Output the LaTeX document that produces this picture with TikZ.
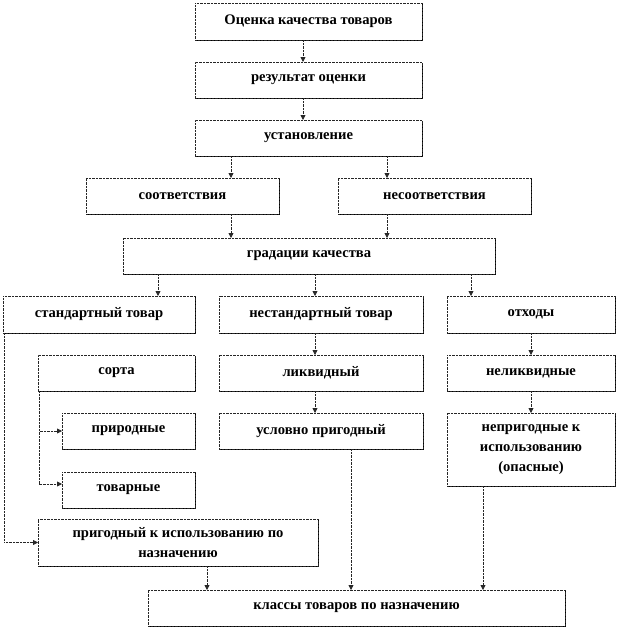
\documentclass[tikz,border=0pt]{standalone}
\usepackage{fontspec}
\setmainfont{Liberation Serif}
\usetikzlibrary{arrows.meta,shadows,calc}
\tikzset{
  boxst/.style={draw=black!85, line width=0.7pt, dash pattern=on 0.7pt off 0.7pt,
    fill=white, inner sep=0pt, outer sep=0pt, align=center,
    font=\fontsize{14.6}{20}\selectfont\bfseries,
    drop shadow={shadow xshift=1.3pt, shadow yshift=-1.3pt, fill=black, opacity=1}},
  conn/.style={draw=black!85, line width=0.8pt, dash pattern=on 0.7pt off 0.7pt,
    -{Triangle[width=5pt,length=5pt]}}
}
\newcommand\mkbox[6]{\node[boxst, minimum width={(#4-#2)*1pt}, minimum height={(#5-#3)*1pt}] (#1) at ({(#2+#4)/2},{(#3+#5)/2}) {#6};}
\begin{document}
\begin{tikzpicture}[x=1pt,y=-1pt]
\useasboundingbox (0,0) rectangle (618,629);
\mkbox{A}{195}{3}{422}{40}{Оценка качества товаров}
\mkbox{B}{195}{62}{422}{98}{результат  оценки}
\mkbox{C}{195}{120}{422}{156}{установление}
\mkbox{D}{86}{178}{279}{214}{соответствия}
\mkbox{E}{338}{178}{531}{214}{несоответствия}
\mkbox{F}{123}{238}{495}{274}{градации качества}
\mkbox{G}{3}{296}{195}{333}{стандартный товар}
\mkbox{H}{219}{296}{423}{333}{нестандартный товар}
\mkbox{I}{447}{296}{615}{333}{отходы}
\mkbox{J}{38}{355}{195}{391}{сорта}
\mkbox{K}{219}{355}{423}{391}{ликвидный}
\mkbox{L}{447}{355}{615}{391}{неликвидные}
\mkbox{M}{62}{413}{195}{449}{природные}
\mkbox{N}{219}{413}{423}{449}{условно пригодный}
\mkbox{O}{447}{413}{615}{486}{непригодные к\\использованию\\(опасные)}
\mkbox{P}{62}{472}{195}{508}{товарные}
\mkbox{Q}{38}{519}{318}{566}{пригодный к использованию по\\назначению}
\mkbox{R}{148}{590}{565}{626}{классы  товаров по назначению}
\draw[conn] (303,0 |- A.south) -- (303,0 |- B.north);
\draw[conn] (303,0 |- B.south) -- (303,0 |- C.north);
\draw[conn] (231,0 |- C.south) -- (231,0 |- D.north);
\draw[conn] (387,0 |- C.south) -- (387,0 |- E.north);
\draw[conn] (231,0 |- D.south) -- (231,0 |- F.north);
\draw[conn] (387,0 |- E.south) -- (387,0 |- F.north);
\draw[conn] (158,0 |- F.south) -- (158,0 |- G.north);
\draw[conn] (315,0 |- F.south) -- (315,0 |- H.north);
\draw[conn] (471,0 |- F.south) -- (471,0 |- I.north);
\draw[conn] (315,0 |- H.south) -- (315,0 |- K.north);
\draw[conn] (315,0 |- K.south) -- (315,0 |- N.north);
\draw[conn] (531,0 |- I.south) -- (531,0 |- L.north);
\draw[conn] (531,0 |- L.south) -- (531,0 |- O.north);
\draw[conn] (207,0 |- Q.south) -- (207,0 |- R.north);
\draw[conn] (351,0 |- N.south) -- (351,0 |- R.north);
\draw[conn] (483,0 |- O.south) -- (483,0 |- R.north);
\draw[conn] (4,0 |- G.south) |- (Q.west);
\draw[conn] (39,0 |- J.south) |- (M.west);
\draw[conn] (39,0 |- J.south) |- (P.west |- 0,484);
\end{tikzpicture}
\end{document}
